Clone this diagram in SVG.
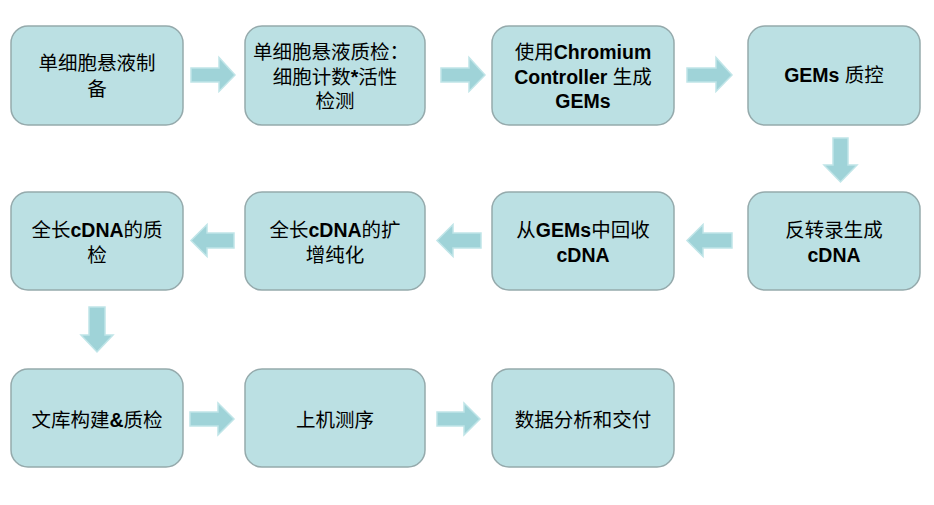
<svg xmlns="http://www.w3.org/2000/svg" width="934" height="505" viewBox="0 0 934 505">
<style>
.box{fill:#bbe0e3;stroke:#95aaac;stroke-width:1.5}
.arr{fill:#9fd3d8;stroke:#c0e5e8;stroke-width:1.5}
text{font-family:"Liberation Sans","Noto Sans CJK SC",sans-serif;font-size:19.5px;fill:#000;text-anchor:middle}
.b{font-weight:bold}
</style>
<rect width="934" height="505" fill="#fff"/>
<g id="connectors">
<path class="arr" d="M191,68H219V57.5L235,75L219,91.5V82H191Z"/>
<path class="arr" d="M441,68H469V57.5L485,75L469,91.5V82H441Z"/>
<path class="arr" d="M687,68H716V57.5L732,75L716,91.5V82H687Z"/>
<path class="arr" d="M833,138V165H824L840.5,182L857,165H848V138Z"/>
<path class="arr" d="M732,233H703V224.5L687,240.5L703,256.5V248H732Z"/>
<path class="arr" d="M481,233H453V224.5L437,240.5L453,256.5V248H481Z"/>
<path class="arr" d="M234,233H207V224.5L191,240.5L207,256.5V248H234Z"/>
<path class="arr" d="M89,307V335H81L97,352L113,335H105V307Z"/>
<path class="arr" d="M190,412H218V403L234,419L218,435V426H190Z"/>
<path class="arr" d="M437,412H464V403L480,419L464,435V426H437Z"/>
</g>
<g id="n1"><rect class="box" x="11" y="26" width="172" height="99" rx="17"/>
<text x="97" y="70">单细胞悬液制</text><text x="97" y="96">备</text></g>
<g id="n2"><rect class="box" x="245" y="26" width="180" height="99" rx="17"/>
<text x="331" y="59">单细胞悬液质检：</text><text x="335" y="84">细胞计数<tspan class="b">*</tspan>活性</text><text x="335" y="108">检测</text></g>
<g id="n3"><rect class="box" x="492" y="26" width="182" height="99" rx="17"/>
<text x="583" y="59">使用<tspan class="b">Chromium</tspan></text><text x="583" y="84"><tspan class="b">Controller </tspan>生成</text><text x="583" y="108" class="b">GEMs</text></g>
<g id="n4"><rect class="box" x="748" y="26" width="172" height="99" rx="17"/>
<text x="834" y="82"><tspan class="b">GEMs </tspan>质控</text></g>
<g id="n5"><rect class="box" x="748" y="192" width="172" height="98" rx="17"/>
<text x="834" y="237">反转录生成</text><text x="834" y="262" class="b">cDNA</text></g>
<g id="n6"><rect class="box" x="492" y="192" width="182" height="98" rx="17"/>
<text x="583" y="237">从<tspan class="b">GEMs</tspan>中回收</text><text x="583" y="262" class="b">cDNA</text></g>
<g id="n7"><rect class="box" x="245" y="192" width="180" height="98" rx="17"/>
<text x="335" y="237">全长<tspan class="b">cDNA</tspan>的扩</text><text x="335" y="262">增纯化</text></g>
<g id="n8"><rect class="box" x="11" y="192" width="172" height="98" rx="17"/>
<text x="97" y="237">全长<tspan class="b">cDNA</tspan>的质</text><text x="97" y="262">检</text></g>
<g id="n9"><rect class="box" x="11" y="369" width="172" height="98" rx="17"/>
<text x="97" y="427">文库构建<tspan class="b">&amp;</tspan>质检</text></g>
<g id="n10"><rect class="box" x="245" y="369" width="180" height="98" rx="17"/>
<text x="335" y="427">上机测序</text></g>
<g id="n11"><rect class="box" x="492" y="369" width="182" height="98" rx="17"/>
<text x="583" y="427">数据分析和交付</text></g>
</svg>
